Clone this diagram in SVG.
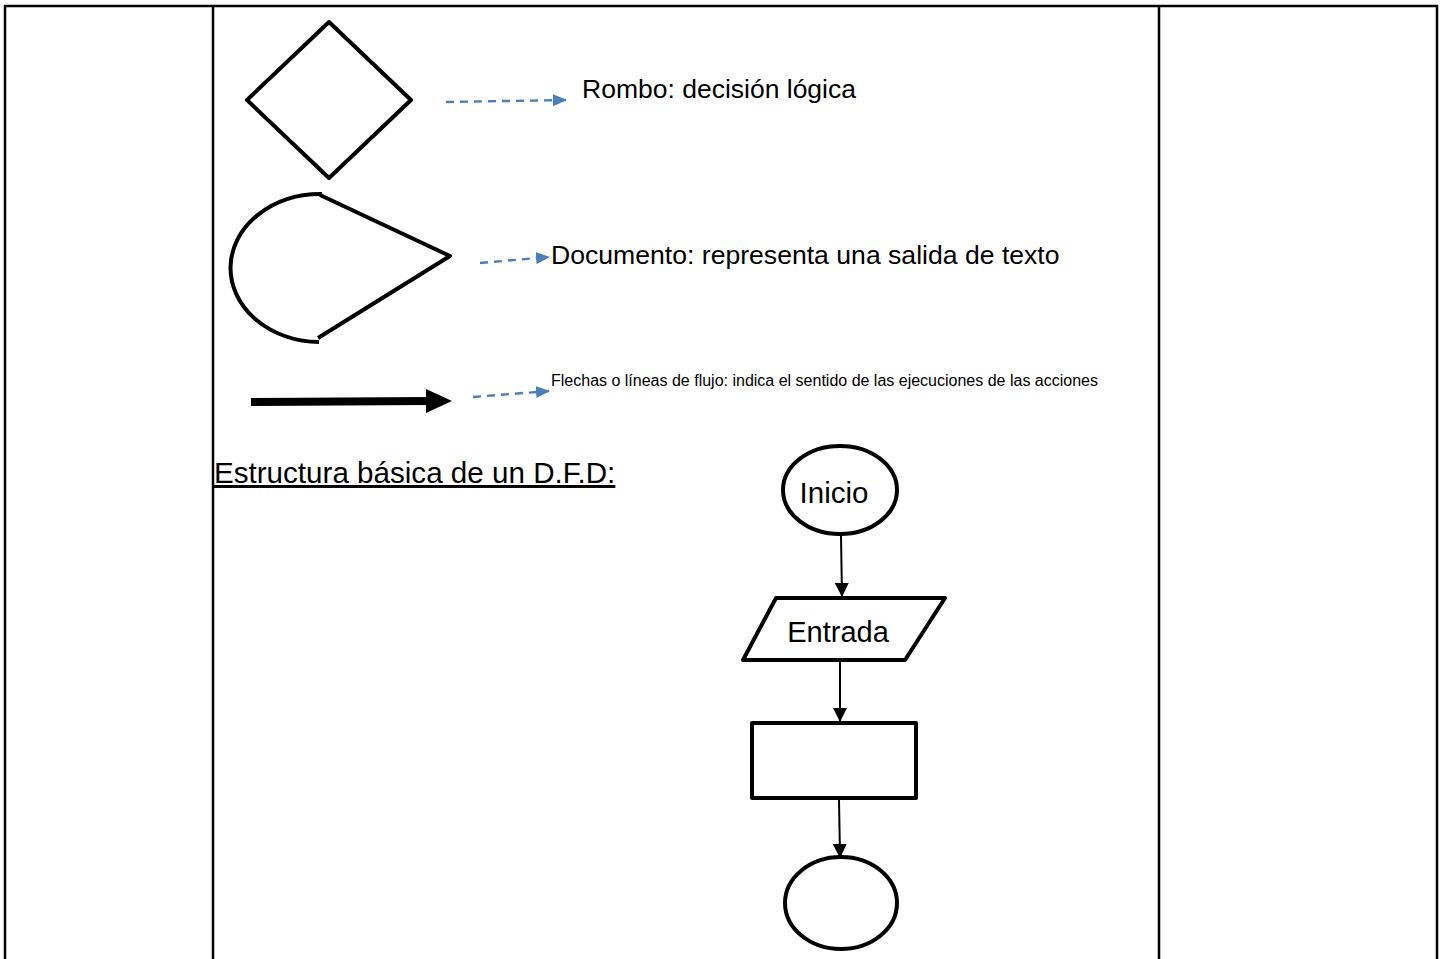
<svg xmlns="http://www.w3.org/2000/svg" width="1442" height="959" viewBox="0 0 1442 959">
<style>
.tbl{stroke:#000;stroke-width:2.5;fill:none}
.shape{stroke:#000;stroke-width:4;fill:#fff;stroke-linejoin:round}
.dash{stroke:#4a7ebb;stroke-width:2.4;stroke-dasharray:8,6;fill:none}
.flow{stroke:#000;stroke-width:2;fill:none}
.t{font-family:"Liberation Sans",Arial,sans-serif;fill:#000}
</style>
<defs>
<marker id="blue" markerWidth="14" markerHeight="12" refX="13" refY="6" orient="auto" markerUnits="userSpaceOnUse" viewBox="0 0 14 12">
<path d="M0,0 L14,6 L0,12 z" fill="#4a7ebb"/>
</marker>
<marker id="blk" markerWidth="14" markerHeight="14" refX="13" refY="7" orient="auto" markerUnits="userSpaceOnUse" viewBox="0 0 14 14">
<path d="M0,0 L14,7 L0,14 z" fill="#000"/>
</marker>
</defs>
<rect width="1442" height="959" fill="#fff"/>
<g id="table">
<line class="tbl" x1="4" y1="6" x2="1438" y2="6"/>
<line class="tbl" x1="5" y1="5" x2="5" y2="959"/>
<line class="tbl" x1="213" y1="5" x2="213" y2="959"/>
<line class="tbl" x1="1159" y1="5" x2="1159" y2="959"/>
<line class="tbl" x1="1437" y1="5" x2="1437" y2="959"/>
</g>
<g id="rombo">
<polygon class="shape" points="329,22 411,100 329,178 247,100"/>
</g>
<g id="documento">
<path class="shape" style="fill:none" d="M320,195 L450,256 L318,338"/>
<path class="shape" style="fill:none" d="M322,194 A90,74 0 0 0 319,342"/>
</g>
<g id="flecha">
<line x1="251" y1="402" x2="430" y2="401" stroke="#000" stroke-width="8"/>
<polygon points="426,389 452,401 426,413" fill="#000"/>
</g>
<g id="connectors">
<line class="dash" x1="446" y1="102" x2="566" y2="100" marker-end="url(#blue)"/>
<line class="dash" x1="480" y1="263" x2="549" y2="257" marker-end="url(#blue)"/>
<line class="dash" x1="473" y1="397" x2="549" y2="391" marker-end="url(#blue)"/>
<line class="flow" x1="841" y1="536" x2="842" y2="596" marker-end="url(#blk)"/>
<line class="flow" x1="840" y1="662" x2="840" y2="721" marker-end="url(#blk)"/>
<line class="flow" x1="839" y1="800" x2="840" y2="857" marker-end="url(#blk)"/>
</g>
<g id="labels">
<text class="t" x="582" y="98" font-size="26.5">Rombo: decisión lógica</text>
<text class="t" x="551" y="264" font-size="26.6">Documento: representa una salida de texto</text>
<text class="t" x="551" y="386" font-size="16">Flechas o líneas de flujo: indica el sentido de las ejecuciones de las acciones</text>
<text class="t" x="214" y="483" font-size="29.6" text-decoration="underline">Estructura básica de un D.F.D:</text>
</g>
<g id="inicio">
<ellipse class="shape" cx="840" cy="490" rx="57" ry="44"/>
<text class="t" x="834" y="503" font-size="29.5" text-anchor="middle">Inicio</text>
</g>
<g id="entrada">
<polygon class="shape" points="776,598 945,598 905,660 743,660"/>
<text class="t" x="838" y="642" font-size="29" text-anchor="middle">Entrada</text>
</g>
<g id="proceso">
<rect class="shape" x="752" y="723" width="164" height="75"/>
</g>
<g id="fin">
<ellipse class="shape" cx="841" cy="903" rx="56" ry="46"/>
</g>
</svg>
